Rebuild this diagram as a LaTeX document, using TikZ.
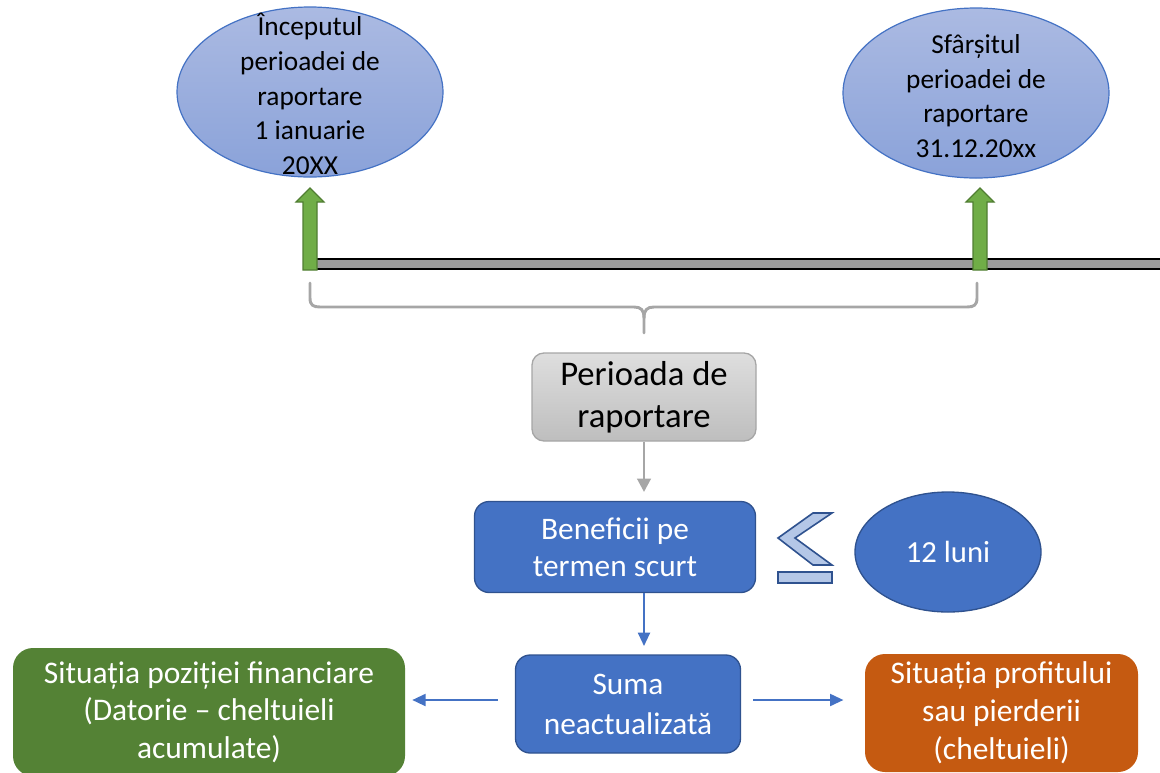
\documentclass[tikz,border=0pt]{standalone}
\usepackage{fontspec}
\setmainfont{Carlito}
\usetikzlibrary{shapes.geometric,arrows.meta}
\definecolor{eltop}{RGB}{171,186,226}
\definecolor{elbot}{RGB}{138,162,217}
\definecolor{elline}{RGB}{68,114,196}
\definecolor{garrow}{RGB}{112,173,71}
\definecolor{garrowline}{RGB}{80,126,50}
\definecolor{bluef}{RGB}{68,114,196}
\definecolor{blueline}{RGB}{47,82,143}
\definecolor{greenbox}{RGB}{84,130,53}
\definecolor{orangebox}{RGB}{197,90,17}
\definecolor{chev}{RGB}{180,199,231}
\definecolor{braceg}{RGB}{166,166,166}
\definecolor{ptop}{RGB}{222,222,222}
\definecolor{pbot}{RGB}{190,190,190}
\definecolor{barg}{RGB}{155,155,155}
\begin{document}
\begin{tikzpicture}[x=0.75pt,y=-0.75pt,
  ell/.style={ellipse, draw=elline, line width=0.9pt, top color=eltop, bottom color=elbot,
    inner sep=0pt, minimum width=199.5pt, minimum height=127.5pt},
  elltxt/.style={align=center, text=black, inner sep=0pt, font=\fontsize{20.5}{26}\selectfont},
  bluebox/.style={rectangle, rounded corners=11pt, fill=bluef, draw=blueline, line width=1pt,
    text=white, align=center, inner sep=0pt},
  colbox/.style={rectangle, rounded corners=15pt, text=white, align=center, inner sep=0pt},
  barrow/.style={draw=bluef, line width=1.5pt, -{Triangle[length=10pt,width=9pt]}},
  grarrow/.style={draw=braceg, line width=2.2pt, -{Triangle[length=10pt,width=10pt]}},
  chevshape/.style={fill=chev, draw=blueline, line width=1.2pt, line join=miter},
  greenup/.style={fill=garrow, draw=garrowline, line width=0.9pt}
]
\useasboundingbox (0,0) rectangle (1160,772);
\clip (0,0) rectangle (1160,772);

% ellipses at top
\node[ell] (e1) at (310,92) {};
\node[elltxt] (e1t) at (310,94) {Începutul\\perioadei de\\raportare\\1 ianuarie\\20XX};
\node[ell] (e2) at (976,93) {};
\node[elltxt] (e2t) at (976,96) {Sfârșitul\\perioadei de\\raportare\\31.12.20xx};

% timeline bar
\draw[fill=barg, draw=black, line width=1.1pt] (310,259) rectangle (1166,269);

% green up arrows
\draw[greenup] (303,270) -- (303,202) -- (296,202) -- (310,188) -- (324,202) -- (317,202) -- (317,270) -- cycle;
\draw[greenup] (973,270) -- (973,202) -- (966,202) -- (980,188) -- (994,202) -- (987,202) -- (987,270) -- cycle;

% brace
\draw[braceg, line width=2.2pt, line cap=round]
  (310,283) -- (310,298) .. controls (310,305) and (313,307) .. (320,307) -- (634,307)
  .. controls (641,307) and (644,310) .. (644,318) -- (644,333);
\draw[braceg, line width=2.2pt, line cap=round]
  (644,318) .. controls (644,310) and (647,307) .. (654,307) -- (967,307)
  .. controls (974,307) and (977,305) .. (977,298) -- (977,283);

% reporting period box
\node[rectangle, rounded corners=9pt, top color=ptop, bottom color=pbot, draw=braceg, line width=1pt,
  minimum width=168pt, minimum height=66pt, align=center, inner sep=0pt,
  font=\fontsize{26}{31.5}\selectfont] (per) at (644,397) {Perioada de\\raportare};
\coordinate (gtip) at (644,492);
\draw[grarrow] (per.south -| gtip) -- (gtip);

% short-term benefits
\node[bluebox, minimum width=210.75pt, minimum height=68.25pt,
  font=\fontsize{23.5}{28}\selectfont] (ben) at (615,547) {Beneficii pe\\termen scurt};

% less-or-equal symbol
\draw[chevshape] (813,513) -- (832,513) -- (795,538) -- (832,565) -- (813,565) -- (778,538) -- cycle;
\draw[chevshape] (778,572) rectangle (832,583);

% 12 months
\node[ellipse, fill=bluef, draw=blueline, line width=1pt, inner sep=0pt,
  minimum width=139.5pt, minimum height=90pt, text=white,
  font=\fontsize{23}{28}\selectfont] (luni) at (948,552) {12 luni};

% undiscounted amount
\node[bluebox, minimum width=168.75pt, minimum height=73.5pt,
  font=\fontsize{23.5}{30}\selectfont] (sum) at (628,704) {Suma\\neactualizată};
\coordinate (btip) at (644,646);
\draw[barrow] (ben.south -| btip) -- (btip);

% financial position
\node[colbox, fill=greenbox, minimum width=294pt, minimum height=96pt,
  font=\fontsize{23.6}{28}\selectfont] (fin) at (209,712)
  {Situația poziției financiare\\(Datorie – cheltuieli\\acumulate)};
% profit or loss
\node[colbox, fill=orangebox, minimum width=204.75pt, minimum height=88.5pt,
  font=\fontsize{23.6}{28.5}\selectfont] (prof) at (1001.5,713)
  {Situația profitului\\sau pierderii\\(cheltuieli)};

\draw[barrow] ([xshift=-12.75pt,yshift=3pt]sum.west) -- ([xshift=5.25pt,yshift=3pt]sum.west -| fin.east);
\draw[barrow] ([xshift=9pt,yshift=3pt]sum.east) -- ([xshift=-16pt,yshift=3pt]sum.east -| prof.west);
\end{tikzpicture}
\end{document}
